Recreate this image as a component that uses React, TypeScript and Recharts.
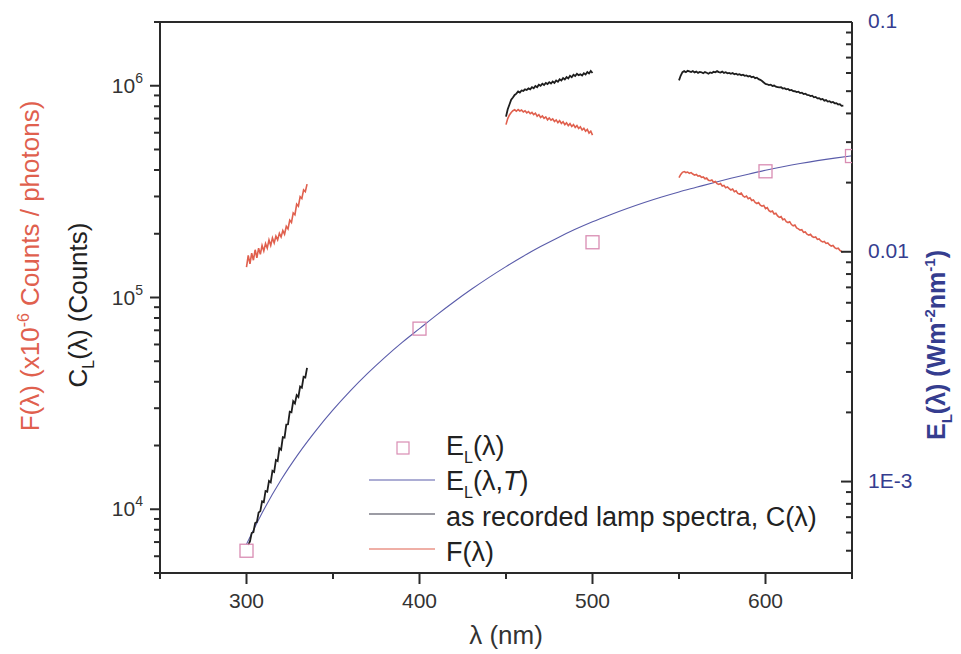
import React from 'react';
import { ComposedChart, Line, Scatter, XAxis, YAxis, ReferenceLine, Legend } from 'recharts';

const FONT = '"Liberation Sans", Arial, Helvetica, sans-serif';
const AXIS = '#2a2a2a';
const NAVY = '#353d8f';
const RED = '#e0604e';
const BLACK = '#1e1e1e';
const BLUE = '#5a5caa';
const PINK = '#d98db3';

// ---- recorded lamp spectra C(λ) (counts), 1 nm sampling ----
const blackSeg1Start = 301;
const blackSeg1 = [6790, 7050, 7720, 7800, 8600, 8700, 9650, 9800, 10900, 10800, 12200, 12100, 13600, 13400, 15200, 15000, 17100, 16900, 19400, 19100, 21900, 21800, 25100, 25200, 28900, 28700, 32400, 31600, 34600, 33900, 38000, 37500, 42200, 41900, 46500];
const blackSeg2Start = 450;
const blackSeg2 = [715000, 775000, 815000, 860000, 880000, 905000, 918000, 940000, 928000, 950000, 945000, 962000, 955000, 972000, 962000, 985000, 972000, 998000, 985000, 1012000, 1000000, 1022000, 1008000, 1030000, 1018000, 1040000, 1025000, 1048000, 1032000, 1058000, 1045000, 1072000, 1058000, 1088000, 1070000, 1098000, 1082000, 1115000, 1098000, 1128000, 1112000, 1140000, 1122000, 1132000, 1118000, 1145000, 1130000, 1160000, 1142000, 1175000, 1148000];
const blackSeg3Start = 550;
const blackSeg3 = [1060000, 1118000, 1160000, 1172000, 1158000, 1176000, 1168000, 1160000, 1174000, 1156000, 1166000, 1150000, 1162000, 1158000, 1146000, 1160000, 1152000, 1140000, 1156000, 1148000, 1164000, 1158000, 1172000, 1160000, 1154000, 1166000, 1150000, 1158000, 1144000, 1150000, 1138000, 1148000, 1132000, 1140000, 1128000, 1134000, 1120000, 1128000, 1114000, 1118000, 1106000, 1112000, 1098000, 1104000, 1086000, 1092000, 1074000, 1066000, 1052000, 1036000, 1020000, 1016000, 1008000, 1012000, 998000, 1002000, 990000, 986000, 982000, 984000, 970000, 974000, 962000, 966000, 952000, 956000, 944000, 942000, 934000, 938000, 924000, 928000, 914000, 918000, 906000, 904000, 894000, 898000, 882000, 886000, 872000, 874000, 862000, 866000, 850000, 856000, 842000, 846000, 834000, 838000, 826000, 828000, 816000, 818000, 804000, 806000];

// ---- F(λ) (x1e-6 counts / photons), 1 nm sampling ----
const redSeg1Start = 300;
const redSeg1 = [139000, 158000, 144000, 162000, 150000, 168000, 154000, 171000, 160000, 176000, 166000, 180000, 171000, 187000, 176000, 191000, 181000, 195000, 187000, 201000, 193000, 207000, 199000, 217000, 211000, 232000, 226000, 251000, 246000, 276000, 270000, 299000, 293000, 322000, 316000, 343000];
const redSeg2Start = 450;
const redSeg2 = [655000, 700000, 728000, 748000, 762000, 770000, 758000, 772000, 760000, 768000, 752000, 762000, 745000, 755000, 738000, 748000, 730000, 742000, 718000, 730000, 708000, 720000, 702000, 713000, 690000, 704000, 688000, 698000, 678000, 690000, 670000, 684000, 664000, 676000, 655000, 668000, 648000, 662000, 642000, 655000, 636000, 648000, 628000, 640000, 618000, 630000, 610000, 622000, 598000, 610000, 585000];
const redSeg3Start = 550;
const redSeg3 = [368000, 381000, 390000, 393000, 389000, 391000, 386000, 389000, 383000, 378000, 381000, 374000, 376000, 369000, 371000, 364000, 367000, 358000, 356000, 359000, 350000, 353000, 345000, 342000, 345000, 336000, 338000, 330000, 333000, 327000, 322000, 325000, 316000, 319000, 310000, 308000, 311000, 302000, 298000, 301000, 293000, 296000, 287000, 289000, 281000, 278000, 281000, 273000, 270000, 272000, 263000, 266000, 257000, 254000, 256000, 248000, 250000, 243000, 239000, 241000, 233000, 235000, 228000, 226000, 228000, 221000, 218000, 220000, 213000, 211000, 208000, 209000, 203000, 204000, 199000, 197000, 199000, 194000, 192000, 193000, 188000, 189000, 185000, 183000, 184000, 180000, 181000, 177000, 175000, 176000, 172000, 170000, 171000, 167000, 165000, 164000];

// ---- E_L(λ,T) fit (W m^-2 nm^-1) ----
const fitWavelengths = [300, 310, 320, 330, 340, 350, 360, 370, 380, 390, 400, 410, 420, 430, 440, 450, 460, 470, 480, 490, 500, 510, 520, 530, 540, 550, 560, 570, 580, 590, 600, 610, 620, 630, 640, 650];
const fitIrradiance = [0.000534, 0.000754, 0.001018, 0.00132, 0.001662, 0.002049, 0.002481, 0.002955, 0.003472, 0.004032, 0.00463, 0.005315, 0.006062, 0.006865, 0.00772, 0.00862, 0.009563, 0.010534, 0.01152, 0.01252, 0.01351, 0.01447, 0.01543, 0.01639, 0.01732, 0.01822, 0.01908, 0.01998, 0.02088, 0.02176, 0.02263, 0.02345, 0.02422, 0.02493, 0.02557, 0.02614];

// ---- E_L(λ) lamp calibration points ----
const lampWavelengths = [300, 400, 500, 600, 650];
const lampIrradiance = [0.0005, 0.00463, 0.011, 0.0224, 0.0261];

// ---- axes ----
const xTicks = [250, 300, 350, 400, 450, 500, 550, 600, 650];
const xLabelTicks = [300, 400, 500, 600];
const leftTicks = [5000, 6000, 7000, 8000, 9000, 10000, 20000, 30000, 40000, 50000, 60000, 70000, 80000, 90000, 100000, 200000, 300000, 400000, 500000, 600000, 700000, 800000, 900000, 1000000, 2000000];
const rightTicks = [0.0004, 0.0005, 0.0006, 0.0007, 0.0008, 0.0009, 0.001, 0.002, 0.003, 0.004, 0.005, 0.006, 0.007, 0.008, 0.009, 0.01, 0.02, 0.03, 0.04, 0.05, 0.06, 0.07, 0.08, 0.09, 0.1];
const rightTickLabels: Record<string, string> = { '-3': '1E-3', '-2': '0.01', '-1': '0.1' };

const pts = (start: number, vals: number[]) => vals.map((y, i) => ({ x: start + i, y }));
const zip = (xs: number[], ys: number[]) => xs.map((x, i) => ({ x, y: ys[i] }));

const isDecade = (v: number) => {
  const e = Math.log10(v);
  return Math.abs(e - Math.round(e)) < 1e-6;
};

const XTick = (props: any) => {
  const { x, y, payload } = props;
  const v = payload.value;
  const major = xLabelTicks.includes(v);
  return (
    <g>
      <line x1={x} x2={x} y1={y} y2={y + (major ? 11 : 6)} stroke={AXIS} strokeWidth={2} />
      {major && (
        <text x={x} y={y + 35} textAnchor="middle" fontSize={21} fill="#333" fontFamily={FONT}>
          {v}
        </text>
      )}
    </g>
  );
};

const LeftTick = (props: any) => {
  const { x, y, payload } = props;
  const v = payload.value;
  const major = isDecade(v);
  const e = Math.round(Math.log10(v));
  return (
    <g>
      <line x1={x} x2={x - (major ? 10 : 6)} y1={y} y2={y} stroke={AXIS} strokeWidth={2} />
      {major && (
        <text x={x - 17} y={y + 7} textAnchor="end" fontSize={21} fill="#333" fontFamily={FONT}>
          10<tspan fontSize={14} dy={-10}>{e}</tspan>
        </text>
      )}
    </g>
  );
};

const RightTick = (props: any) => {
  const { x, y, payload } = props;
  const v = payload.value;
  const major = isDecade(v);
  const e = String(Math.round(Math.log10(v)));
  return (
    <g>
      <line x1={x} x2={x - (major ? 11 : 6)} y1={y} y2={y} stroke={AXIS} strokeWidth={2} />
      {major && (
        <text x={x + 16} y={y + 6} textAnchor="start" fontSize={21} fill={NAVY} fontFamily={FONT}>
          {rightTickLabels[e]}
        </text>
      )}
    </g>
  );
};

const XTitle = () => (
  <text x={506} y={644} textAnchor="middle" fontSize={26} fill="#333" fontFamily={FONT}>
    λ (nm)
  </text>
);

const LeftTitles = () => (
  <g fontFamily={FONT}>
    <text transform="translate(30,266) rotate(-90)" textAnchor="middle" y={9} fontSize={26} fill={RED}>
      F(λ) (x10<tspan fontSize={16} dy={-10}>-6</tspan>
      <tspan dy={10}> Counts / photons)</tspan>
    </text>
    <text transform="translate(78,305) rotate(-90)" textAnchor="middle" y={9} fontSize={26} fill="#222">
      C<tspan fontSize={16} dy={7}>L</tspan>
      <tspan dy={-7}>(λ) (Counts)</tspan>
    </text>
  </g>
);

const RightTitle = () => (
  <text transform="translate(936,345) rotate(-90)" textAnchor="middle" y={9} fontSize={25} fontWeight="bold" fill={NAVY} fontFamily={FONT}>
    E<tspan fontSize={15} dy={7}>L</tspan>
    <tspan dy={-7}>(λ) (Wm</tspan>
    <tspan fontSize={15} dy={-10}>-2</tspan>
    <tspan dy={10}>nm</tspan>
    <tspan fontSize={15} dy={-10}>-1</tspan>
    <tspan dy={10}>)</tspan>
  </text>
);

const Sub = ({ children }: { children: React.ReactNode }) => (
  <span style={{ fontSize: 16, position: 'relative', top: 8 }}>{children}</span>
);

const LegendRow = ({ symbol, children }: { symbol: React.ReactNode; children: React.ReactNode }) => (
  <div style={{ display: 'flex', alignItems: 'center', height: 34.5, whiteSpace: 'nowrap' }}>
    <svg width={86} height={34} style={{ flex: '0 0 86px' }}>
      {symbol}
    </svg>
    <span>{children}</span>
  </div>
);

const LegendBox = () => (
  <div style={{ fontFamily: FONT, fontSize: 27, color: '#222', lineHeight: '30px' }}>
    <LegendRow symbol={<rect x={37} y={11} width={12} height={12} fill="none" stroke={PINK} strokeWidth={1.2} />}>
      E<Sub>L</Sub>(λ)
    </LegendRow>
    <LegendRow symbol={<line x1={9} x2={75} y1={14} y2={14} stroke={BLUE} strokeWidth={1.2} />}>
      E<Sub>L</Sub>(λ,<i>T</i>)
    </LegendRow>
    <LegendRow symbol={<line x1={9} x2={75} y1={14} y2={14} stroke="#3a3a4a" strokeWidth={1.2} />}>
      as recorded lamp spectra, C(λ)
    </LegendRow>
    <LegendRow symbol={<line x1={9} x2={75} y1={14} y2={14} stroke={RED} strokeWidth={1.2} />}>
      F(λ)
    </LegendRow>
  </div>
);

const SquareShape = (props: any) => {
  const { cx, cy } = props;
  return <rect x={cx - 6.5} y={cy - 6.5} width={13} height={13} fill="none" stroke={PINK} strokeWidth={1.3} />;
};

export default function App() {
  return (
    <div style={{ position: 'absolute', left: 0, top: 0, width: 961, height: 654, background: '#fff' }}>
      <ComposedChart width={961} height={654} margin={{ top: 22, right: 0, bottom: 0, left: 0 }}>
        <XAxis
          xAxisId={0}
          dataKey="x"
          type="number"
          domain={[250, 650]}
          allowDataOverflow
          ticks={xTicks}
          interval={0}
          height={81}
          tickSize={0}
          tickMargin={0}
          tick={<XTick />}
          tickLine={false}
          axisLine={{ stroke: AXIS, strokeWidth: 2 }}
          label={<XTitle />}
        />
        <YAxis
          yAxisId="left"
          orientation="left"
          scale="log"
          type="number"
          domain={[5000, 2000000]}
          allowDataOverflow
          ticks={leftTicks}
          interval={0}
          width={160}
          tickSize={0}
          tickMargin={0}
          tick={<LeftTick />}
          tickLine={false}
          axisLine={{ stroke: AXIS, strokeWidth: 2 }}
          label={<LeftTitles />}
        />
        <YAxis
          yAxisId="right"
          orientation="right"
          scale="log"
          type="number"
          domain={[0.0004, 0.1]}
          allowDataOverflow
          ticks={rightTicks}
          interval={0}
          width={109}
          tickSize={0}
          tickMargin={0}
          tick={<RightTick />}
          tickLine={false}
          axisLine={{ stroke: AXIS, strokeWidth: 2 }}
          label={<RightTitle />}
        />
        <ReferenceLine yAxisId="left" y={2000000} stroke={AXIS} strokeWidth={2} ifOverflow="extendDomain" />

        <Line yAxisId="right" data={zip(fitWavelengths, fitIrradiance)} dataKey="y" type="monotone" stroke={BLUE} strokeWidth={1.1} dot={false} isAnimationActive={false} />

        <Line yAxisId="left" data={pts(blackSeg1Start, blackSeg1)} dataKey="y" type="linear" stroke={BLACK} strokeWidth={1.8} dot={false} isAnimationActive={false} />
        <Line yAxisId="left" data={pts(blackSeg2Start, blackSeg2)} dataKey="y" type="linear" stroke={BLACK} strokeWidth={1.8} dot={false} isAnimationActive={false} />
        <Line yAxisId="left" data={pts(blackSeg3Start, blackSeg3)} dataKey="y" type="linear" stroke={BLACK} strokeWidth={1.8} dot={false} isAnimationActive={false} />

        <Line yAxisId="left" data={pts(redSeg1Start, redSeg1)} dataKey="y" type="linear" stroke={RED} strokeWidth={1.6} dot={false} isAnimationActive={false} />
        <Line yAxisId="left" data={pts(redSeg2Start, redSeg2)} dataKey="y" type="linear" stroke={RED} strokeWidth={1.6} dot={false} isAnimationActive={false} />
        <Line yAxisId="left" data={pts(redSeg3Start, redSeg3)} dataKey="y" type="linear" stroke={RED} strokeWidth={1.6} dot={false} isAnimationActive={false} />

        <Scatter yAxisId="right" data={zip(lampWavelengths, lampIrradiance)} dataKey="y" shape={<SquareShape />} isAnimationActive={false} />

        <Legend
          layout="horizontal"
          verticalAlign="middle"
          align="center"
          content={<LegendBox />}
          wrapperStyle={{ left: 360, top: 431, width: 480, height: 140 }}
        />
      </ComposedChart>
    </div>
  );
}
